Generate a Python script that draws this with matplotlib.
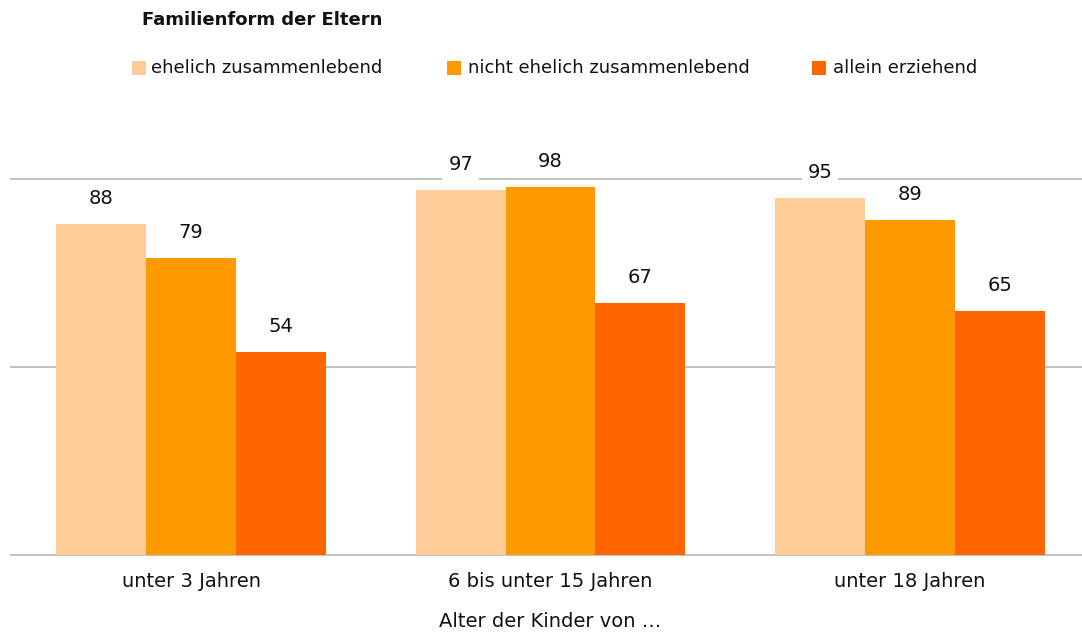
import matplotlib
matplotlib.use("Agg")
import matplotlib.pyplot as plt
from matplotlib.patches import Rectangle
import numpy as np

categories = ["unter 3 Jahren", "6 bis unter 15 Jahren", "unter 18 Jahren"]
series_names = ["ehelich zusammenlebend", "nicht ehelich zusammenlebend", "allein erziehend"]
ehelich = [88, 97, 95]
nicht_ehelich = [79, 98, 89]
allein = [54, 67, 65]
colors = ["#FFCC99", "#FF9900", "#FF6600"]
title = "Familienform der Eltern"
xlabel = "Alter der Kinder von …"

plt.rcParams['font.family'] = ['DejaVu Sans']

W, H = 1082, 637
dpi = 100
fig = plt.figure(figsize=(W / dpi, H / dpi), dpi=dpi)

left_px, width_px = 11.25, 1078.5
top_px, bot_px = 179, 555
ax = fig.add_axes([left_px / W, (H - bot_px) / H, width_px / W, (bot_px - top_px) / H])
ax.set_xlim(-0.5, 2.5)
ax.set_ylim(0, 100)

for y in [0, 50, 100]:
    ax.axhline(y, color="#C0C0C0", lw=1.4, zorder=0, clip_on=False)

x = np.arange(len(categories))
bw = 0.25
data = [ehelich, nicht_ehelich, allein]
for i, (vals, c) in enumerate(zip(data, colors)):
    xs = x + (i - 1) * bw
    ax.bar(xs, vals, width=bw, color=c, zorder=2, linewidth=0)
    for xi, v in zip(xs, vals):
        ax.annotate(str(v), (xi, v), xytext=(0, 18.3), textcoords="offset points",
                    ha="center", va="center", fontsize=14, color="#111111", zorder=3,
                    annotation_clip=False,
                    bbox=dict(boxstyle="square,pad=0.3", fc="white", ec="none"))

for s in ax.spines.values():
    s.set_visible(False)
ax.set_yticks([])
ax.set_xticks(x)
ax.set_xticklabels(categories, fontsize=14, color="#111111")
ax.tick_params(axis="x", length=0, pad=12.5)
ax.set_xlabel(xlabel, fontsize=14, color="#111111", labelpad=15)

fig.text(142 / W, 1 - 20 / H, title, fontsize=13, fontweight="bold", ha="left", va="center",
         color="#111111")

sq_x = [132, 447, 812]
txt_x = [151, 468, 833]
ly = 68
for sx, tx, name, c in zip(sq_x, txt_x, series_names, colors):
    fig.patches.append(Rectangle((sx / W, 1 - (ly + 7) / H), 14 / W, 14 / H,
                                 transform=fig.transFigure, fc=c, ec="none", figure=fig))
    fig.text(tx / W, 1 - ly / H, name, fontsize=13, ha="left", va="center", color="#111111")

fig.savefig("out.png", dpi=dpi)
